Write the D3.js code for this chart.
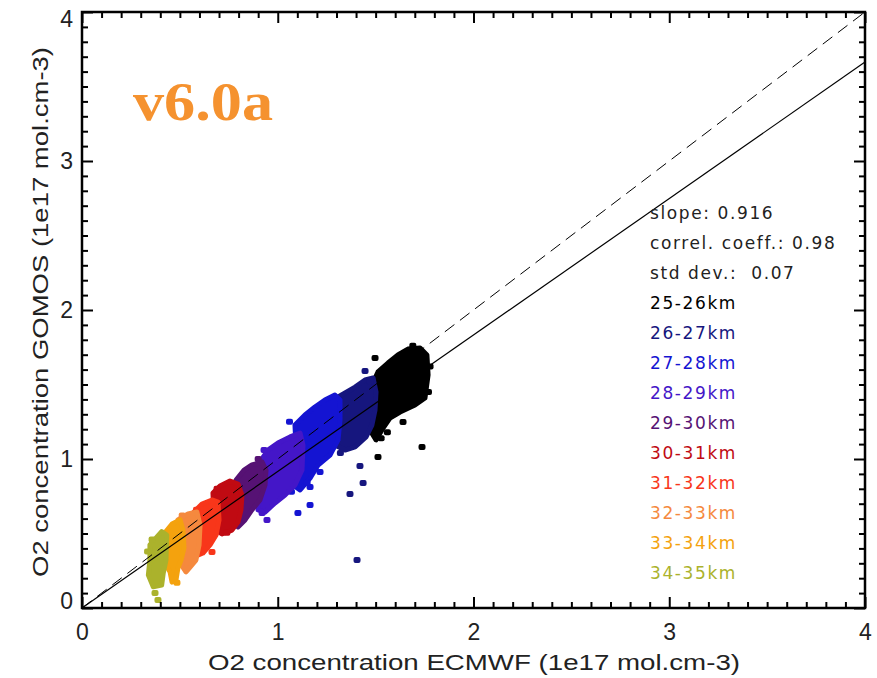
<!DOCTYPE html>
<html>
<head>
<meta charset="utf-8">
<script src="https://cdn.jsdelivr.net/npm/d3@7"></script>
<style>
  html, body { margin: 0; padding: 0; background: #fff; }
  svg { display: block; }
  .axis path { display: none; }
  .axis line { stroke: #000; }
  .axis text { font-family: 'Liberation Sans', Arial, sans-serif; fill: #222; }
</style>
</head>
<body>
<svg id="chart"></svg>
<script>
// axis ticks
const majorTicks = [0, 1, 2, 3, 4];
const minorTicks = d3.range(1, 40).filter(i => i % 10 !== 0).map(i => i / 10);

// fit statistics
const statLabels = ['slope: 0.916', 'correl. coeff.: 0.98', 'std dev.:  0.07'];
const fitSlope = 0.916;

// altitude bands (legend order)
const bandLabels = ['25-26km', '26-27km', '27-28km', '28-29km', '29-30km',
                    '30-31km', '31-32km', '32-33km', '33-34km', '34-35km'];
const bandColors = ['#000000', '#16167e', '#1414d2', '#4416c8', '#561274',
                    '#c00a12', '#f8361a', '#f5893e', '#f4a20e', '#abb22c'];

// dense point clouds, outline [ECMWF, GOMOS]
const cloud2526 = [[1.481,1.497],[1.512,1.584],[1.563,1.644],[1.614,1.698],[1.665,1.738],[1.727,1.745],
  [1.762,1.698],[1.768,1.564],[1.752,1.409],[1.701,1.362],[1.625,1.315],[1.573,1.275],[1.538,1.208],
  [1.502,1.128],[1.471,1.195],[1.476,1.362]];
const cloud2627 = [[1.282,1.396],[1.344,1.443],[1.395,1.483],[1.446,1.530],[1.487,1.544],[1.502,1.450],
  [1.497,1.329],[1.481,1.228],[1.451,1.148],[1.395,1.081],[1.344,1.060],[1.292,1.094],[1.277,1.228]];
const cloud2728 = [[1.088,1.228],[1.139,1.295],[1.190,1.349],[1.241,1.396],[1.292,1.430],[1.318,1.396],
  [1.318,1.262],[1.308,1.128],[1.267,1.027],[1.206,0.960],[1.165,0.872],[1.114,0.792],[1.078,0.826],
  [1.073,0.993],[1.093,1.094]];
const cloud2829 = [[0.899,0.960],[0.950,1.060],[1.001,1.107],[1.063,1.148],[1.114,1.174],[1.129,1.094],
  [1.124,0.926],[1.088,0.826],[1.037,0.758],[0.986,0.705],[0.935,0.644],[0.899,0.658],[0.909,0.792],
  [0.894,0.872]];
const cloud2930 = [[0.787,0.859],[0.828,0.926],[0.868,0.960],[0.920,0.980],[0.940,0.926],[0.935,0.826],
  [0.909,0.725],[0.868,0.658],[0.833,0.591],[0.797,0.544],[0.787,0.658],[0.797,0.758]];
const cloud3031 = [[0.669,0.772],[0.705,0.819],[0.756,0.852],[0.797,0.832],[0.817,0.758],[0.812,0.658],
  [0.797,0.577],[0.766,0.523],[0.715,0.497],[0.685,0.523],[0.674,0.624]];
const cloud3132 = [[0.572,0.644],[0.613,0.698],[0.664,0.725],[0.695,0.711],[0.700,0.591],[0.685,0.490],
  [0.654,0.423],[0.618,0.369],[0.582,0.349],[0.567,0.423],[0.577,0.523]];
const cloud3233 = [[0.490,0.591],[0.542,0.631],[0.587,0.644],[0.603,0.557],[0.598,0.423],[0.582,0.322],
  [0.552,0.275],[0.531,0.242],[0.511,0.282],[0.506,0.389],[0.501,0.490]];
const cloud3334 = [[0.414,0.490],[0.460,0.564],[0.501,0.591],[0.516,0.523],[0.521,0.403],[0.506,0.322],
  [0.490,0.268],[0.480,0.188],[0.460,0.174],[0.450,0.242],[0.429,0.289],[0.424,0.389]];
const cloud3435 = [[0.347,0.423],[0.407,0.512],[0.433,0.490],[0.429,0.322],[0.415,0.233],[0.407,0.154],
  [0.364,0.143],[0.339,0.221],[0.347,0.322]];

// isolated points and ragged edge points outside the cloud outlines
const outliers2526 = [[1.497,1.678],[1.640,1.248],[1.512,1.013],[1.737,1.081],[1.778,1.620],
  [1.690,1.760],[1.528,1.140],[1.560,1.180],[1.770,1.450]];
const outliers2627 = [[1.420,0.953],[1.436,0.839],[1.369,0.765],[1.405,0.322],[1.446,1.591],[1.472,1.520],
  [1.320,1.040],[1.270,1.300]];
const outliers2728 = [[1.165,0.812],[1.165,0.691],[1.103,0.638],[1.216,0.913],[1.060,1.250],[1.070,0.780],
  [1.150,0.840]];
const outliers2829 = [[0.920,0.638],[0.945,0.591],[0.930,1.060],[0.880,0.940]];
const outliers2930 = [[0.780,0.560],[0.900,1.000]];
const outliers3031 = [[0.690,0.800],[0.740,0.505]];
const outliers3132 = [[0.664,0.376],[0.585,0.660]];
const outliers3233 = [[0.512,0.620]];
const outliers3334 = [[0.485,0.170]];
const outliers3435 = [[0.373,0.101],[0.388,0.054],[0.335,0.380],[0.358,0.460]];

const bandClouds = [cloud2526, cloud2627, cloud2728, cloud2829, cloud2930,
                    cloud3031, cloud3132, cloud3233, cloud3334, cloud3435];
const bandOutliers = [outliers2526, outliers2627, outliers2728, outliers2829, outliers2930,
                      outliers3031, outliers3132, outliers3233, outliers3334, outliers3435];

// svg config
const width = 877, height = 678;
const plot = { left: 82, right: 865, top: 12, bottom: 608 };

const svg = d3.select('#chart').attr('width', width).attr('height', height);

const xScale = d3.scaleLinear().domain([0, 4]).range([plot.left, plot.right]);
const yScale = d3.scaleLinear().domain([0, 4]).range([plot.bottom, plot.top]);

// point clouds
const cloudLine = d3.line()
  .x(d => xScale(d[0]))
  .y(d => yScale(d[1]))
  .curve(d3.curveLinearClosed);

const bands = svg.append('g');
bandClouds.forEach((cloud, i) => {
  bands.append('path')
    .attr('d', cloudLine(cloud))
    .attr('fill', bandColors[i])
    .attr('stroke', bandColors[i])
    .attr('stroke-width', 5)
    .attr('stroke-linejoin', 'round');
  bands.selectAll(null)
    .data(bandOutliers[i])
    .enter()
    .append('rect')
    .attr('x', d => xScale(d[0]) - 3.5)
    .attr('y', d => yScale(d[1]) - 3)
    .attr('width', 7)
    .attr('height', 6)
    .attr('rx', 2)
    .attr('fill', bandColors[i]);
});

// 1:1 and fitted lines
svg.append('line')
  .attr('x1', xScale(0)).attr('y1', yScale(0))
  .attr('x2', xScale(4)).attr('y2', yScale(4))
  .attr('stroke', '#000').attr('stroke-width', 1)
  .attr('stroke-dasharray', '12,7');
svg.append('line')
  .attr('x1', xScale(0)).attr('y1', yScale(0))
  .attr('x2', xScale(4)).attr('y2', yScale(4 * fitSlope))
  .attr('stroke', '#000').attr('stroke-width', 1.2);

// axes, ticks inward on all sides
function drawAxis(axisFn, scale, transform, values, size, labels) {
  const ax = axisFn(scale).tickValues(values).tickSize(size);
  if (labels) ax.tickPadding(labels).tickFormat(d3.format('d')); else ax.tickFormat('');
  const g = svg.append('g').attr('class', 'axis').attr('transform', transform).call(ax);
  g.selectAll('line').attr('stroke-width', 2);
  return g;
}
const xAxisNode = drawAxis(d3.axisBottom, xScale, `translate(0,${plot.bottom})`, majorTicks, -11, 16);
drawAxis(d3.axisBottom, xScale, `translate(0,${plot.bottom})`, minorTicks, -6);
drawAxis(d3.axisTop, xScale, `translate(0,${plot.top})`, majorTicks, -11);
drawAxis(d3.axisTop, xScale, `translate(0,${plot.top})`, minorTicks, -6);
const yAxisNode = drawAxis(d3.axisLeft, yScale, `translate(${plot.left},0)`, majorTicks, -11, 9);
drawAxis(d3.axisLeft, yScale, `translate(${plot.left},0)`, minorTicks, -6);
drawAxis(d3.axisRight, yScale, `translate(${plot.right},0)`, majorTicks, -11);
drawAxis(d3.axisRight, yScale, `translate(${plot.right},0)`, minorTicks, -6);

xAxisNode.selectAll('text').style('font-size', '23px');
yAxisNode.selectAll('text')
  .style('font-size', '23px')
  .attr('y', d => d === 0 ? -7 : (d === 4 ? 7 : 0));

svg.append('rect')
  .attr('x', plot.left).attr('y', plot.top)
  .attr('width', plot.right - plot.left).attr('height', plot.bottom - plot.top)
  .attr('fill', 'none').attr('stroke', '#000').attr('stroke-width', 2.5);

// axis titles
svg.append('text')
  .attr('x', 474).attr('y', 670)
  .attr('text-anchor', 'middle')
  .attr('textLength', 532).attr('lengthAdjust', 'spacingAndGlyphs')
  .style('font-family', 'Liberation Sans, Arial, sans-serif')
  .style('font-size', '22px').style('fill', '#222')
  .text('O2 concentration ECMWF (1e17 mol.cm-3)');
svg.append('text')
  .attr('transform', 'translate(48,312) rotate(-90)')
  .attr('text-anchor', 'middle')
  .attr('textLength', 530).attr('lengthAdjust', 'spacingAndGlyphs')
  .style('font-family', 'Liberation Sans, Arial, sans-serif')
  .style('font-size', '22px').style('fill', '#222')
  .text('O2 concentration GOMOS (1e17 mol.cm-3)');

// version tag
svg.append('text')
  .attr('x', 133).attr('y', 120)
  .attr('textLength', 140).attr('lengthAdjust', 'spacingAndGlyphs')
  .style('font-family', 'Liberation Serif, Times New Roman, serif')
  .style('font-weight', 'bold')
  .style('font-size', '54px')
  .style('fill', '#f5922f')
  .text('v6.0a');

// statistics + legend
const legend = svg.append('g')
  .style('font-family', 'DejaVu Sans, Verdana, sans-serif')
  .style('font-size', '17px')
  .style('letter-spacing', '1.6px');
statLabels.forEach((s, i) => {
  legend.append('text')
    .attr('x', 650).attr('y', 219 + i * 29.8)
    .attr('xml:space', 'preserve')
    .style('white-space', 'pre')
    .style('fill', '#222')
    .text(s);
});
bandLabels.forEach((s, i) => {
  legend.append('text')
    .attr('x', 650).attr('y', 309 + i * 30)
    .style('fill', bandColors[i])
    .text(s);
});
</script>
</body>
</html>
